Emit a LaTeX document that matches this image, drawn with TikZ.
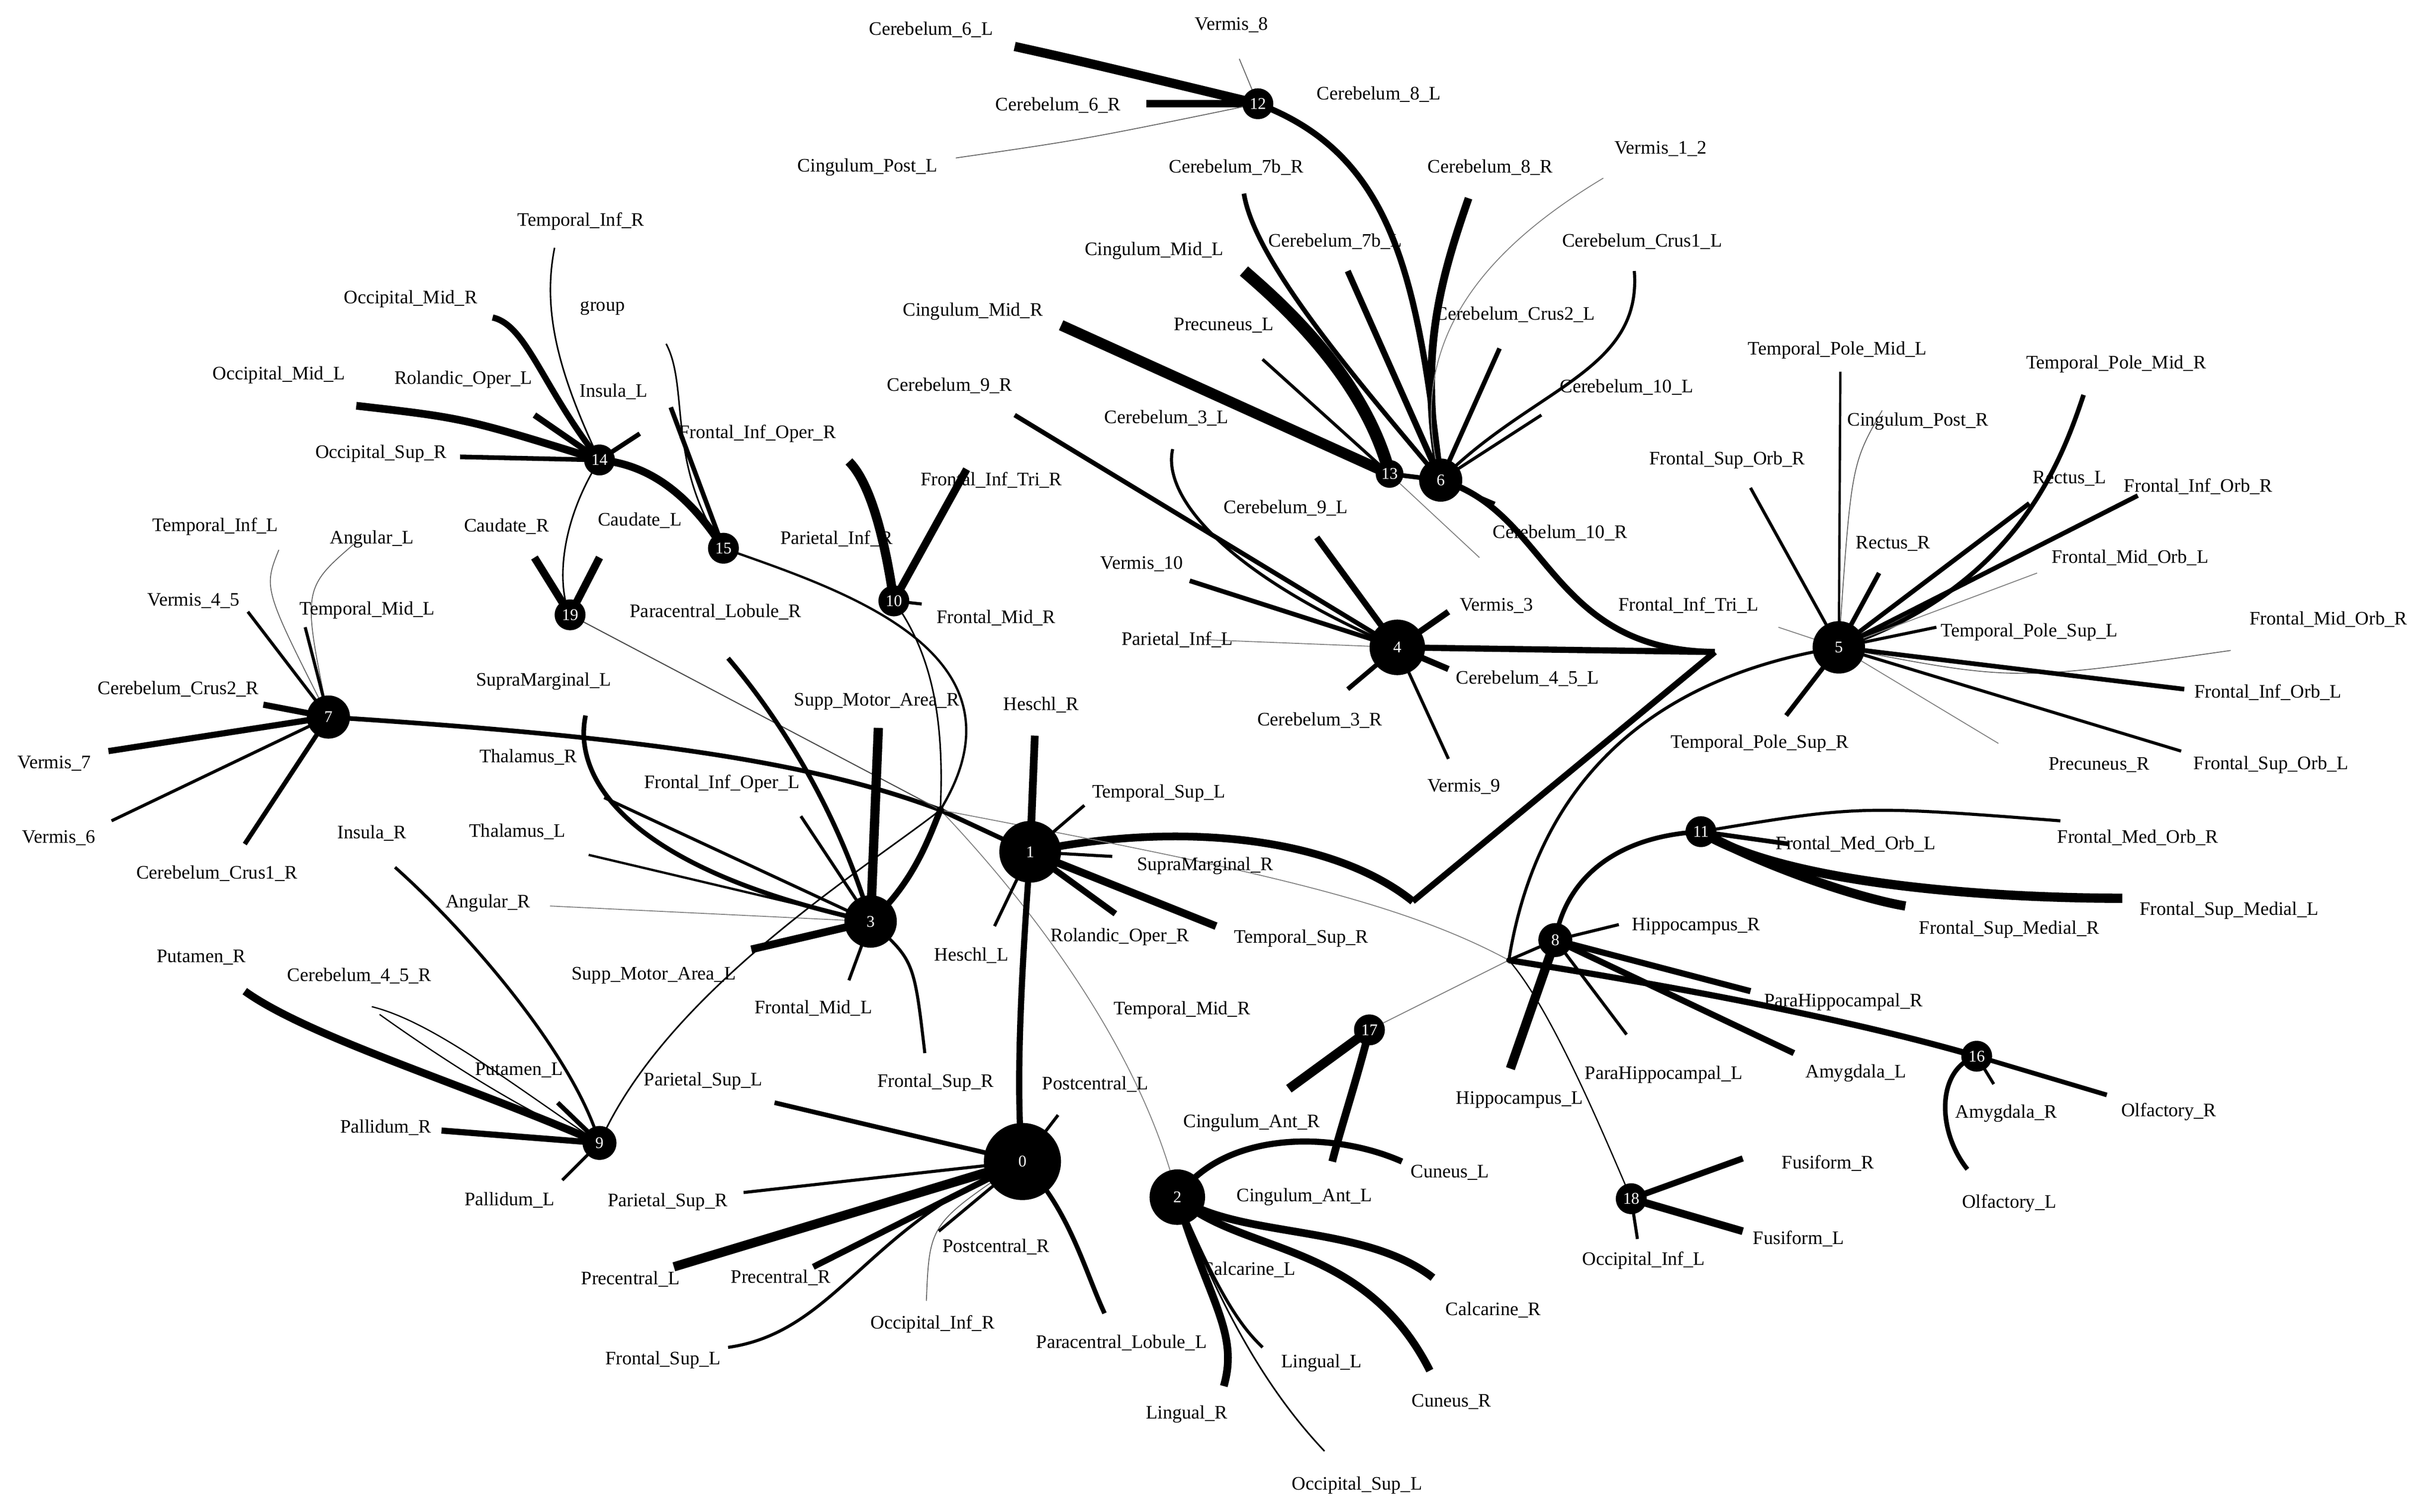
\documentclass[tikz,border=0pt]{standalone}
\usepackage{fontspec}
\setmainfont{Liberation Serif}
\usetikzlibrary{backgrounds}
\tikzset{hub/.style={circle,fill=black,inner sep=0pt,text=white,font=\fontsize{9}{9}\selectfont},
lab/.style={font=\fontsize{10.5}{11}\selectfont,inner sep=0pt},
jn/.style={circle,fill=black,inner sep=0pt,minimum size=4pt}}
\newcommand\E[3]{\draw[line width=#3*0.85pt] (#1) -- (#2);}
\newcommand\C[4]{\draw[line width=#4*0.85pt] (#1) .. controls (#2) .. (#3);}
\newcommand\G[2]{\draw[gray,line width=0.5pt] (#1) -- (#2);}
\newcommand\GC[3]{\draw[gray!80!black,line width=0.5pt] (#1) .. controls (#2) .. (#3);}
\begin{document}
\begin{tikzpicture}[x=0.03cm,y=-0.03cm]
\useasboundingbox (0,0) rectangle (1568,976);
% hubs
\node[hub,minimum size=50*0.85pt] (n0) at (660,750) {0};
\node[hub,minimum size=40*0.85pt] (n1) at (665,550) {1};
\node[hub,minimum size=36*0.85pt] (n2) at (760,773) {2};
\node[hub,minimum size=34*0.85pt] (n3) at (562,595) {3};
\node[hub,minimum size=36*0.85pt] (n4) at (902,418) {4};
\node[hub,minimum size=34*0.85pt] (n5) at (1187,418) {5};
\node[hub,minimum size=28*0.85pt] (n6) at (930,310) {6};
\node[hub,minimum size=28*0.85pt] (n7) at (212,463) {7};
\node[hub,minimum size=22*0.85pt] (n8) at (1004,607) {8};
\node[hub,minimum size=22*0.85pt] (n9) at (387,738) {9};
\node[hub,minimum size=20*0.85pt] (n10) at (577,388) {10};
\node[hub,minimum size=20*0.85pt] (n11) at (1098,537) {11};
\node[hub,minimum size=20*0.85pt] (n12) at (812,67) {12};
\node[hub,minimum size=18*0.85pt] (n13) at (897,306) {13};
\node[hub,minimum size=20*0.85pt] (n14) at (387,297) {14};
\node[hub,minimum size=20*0.85pt] (n15) at (467,354) {15};
\node[hub,minimum size=20*0.85pt] (n16) at (1276,682) {16};
\node[hub,minimum size=20*0.85pt] (n17) at (884,665) {17};
\node[hub,minimum size=20*0.85pt] (n18) at (1053,774) {18};
\node[hub,minimum size=20*0.85pt] (n19) at (368,397) {19};
\node[jn] (ja) at (607,523) {};
\node[jn,minimum size=3pt] (jb) at (974,620) {};
\coordinate (jc) at (1107,421);
\coordinate (jd) at (912,582);
% labels
\foreach \t/\x/\y in {Cerebelum\_6\_L/601/19, Vermis\_8/795/16, Cerebelum\_6\_R/683/68, Cerebelum\_8\_L/890/61, Cingulum\_Post\_L/560/108, Vermis\_1\_2/1072/96, Cerebelum\_7b\_R/798/108, Cerebelum\_8\_R/962/108, Temporal\_Inf\_R/375/143, Cerebelum\_7b\_L/862/156, Cingulum\_Mid\_L/745/162, Cerebelum\_Crus1\_L/1060/156, Occipital\_Mid\_R/265/193, group/389/199, Cingulum\_Mid\_R/628/201, Cerebelum\_Crus2\_L/978/203, Precuneus\_L/790/210, Temporal\_Pole\_Mid\_L/1186/226, Temporal\_Pole\_Mid\_R/1366/235, Occipital\_Mid\_L/180/242, Rolandic\_Oper\_L/299/245, Insula\_L/396/253, Cerebelum\_9\_R/613/249, Cerebelum\_10\_L/1050/250, Cingulum\_Post\_R/1238/272, Cerebelum\_3\_L/753/270, Frontal\_Inf\_Oper\_R/489/280, Occipital\_Sup\_R/246/293, Frontal\_Sup\_Orb\_R/1115/297, Rectus\_L/1336/309, Frontal\_Inf\_Tri\_R/640/310, Frontal\_Inf\_Orb\_R/1419/314, Temporal\_Inf\_L/139/340, Caudate\_R/327/340, Caudate\_L/413/336, Cerebelum\_9\_L/830/328, Angular\_L/240/348, Cerebelum\_10\_R/1007/344, Parietal\_Inf\_R/540/348, Rectus\_R/1222/351, Frontal\_Mid\_Orb\_L/1375/360, Vermis\_10/737/364, Temporal\_Mid\_L/237/394, Vermis\_4\_5/125/388, Vermis\_3/966/391, Paracentral\_Lobule\_R/462/395, Frontal\_Mid\_R/643/399, Frontal\_Inf\_Tri\_L/1090/391, Frontal\_Mid\_Orb\_R/1503/400, Temporal\_Pole\_Sup\_L/1310/408, Parietal\_Inf\_L/760/413, Cerebelum\_4\_5\_L/986/438, SupraMarginal\_L/351/440, Cerebelum\_Crus2\_R/115/445, Frontal\_Inf\_Orb\_L/1464/447, Supp\_Motor\_Area\_R/566/453, Heschl\_R/672/455, Cerebelum\_3\_R/852/465, Thalamus\_R/341/489, Vermis\_7/35/493, Temporal\_Pole\_Sup\_R/1136/480, Precuneus\_R/1355/494, Frontal\_Sup\_Orb\_L/1466/494, Vermis\_9/945/508, Frontal\_Inf\_Oper\_L/466/506, Temporal\_Sup\_L/748/512, Thalamus\_L/334/537, Insula\_R/240/538, Vermis\_6/38/541, Frontal\_Med\_Orb\_R/1380/541, Frontal\_Med\_Orb\_L/1198/545, SupraMarginal\_R/778/559, Cerebelum\_Crus1\_R/140/564, Angular\_R/315/583, Frontal\_Sup\_Medial\_L/1439/588, Frontal\_Sup\_Medial\_R/1297/600, Hippocampus\_R/1095/598, Rolandic\_Oper\_R/723/605, Temporal\_Sup\_R/840/606, Heschl\_L/627/617, Putamen\_R/130/618, Supp\_Motor\_Area\_L/422/630, Cerebelum\_4\_5\_R/232/630, ParaHippocampal\_R/1190/647, Temporal\_Mid\_R/763/652, Frontal\_Mid\_L/525/651, Putamen\_L/335/691, ParaHippocampal\_L/1074/694, Amygdala\_L/1198/693, Amygdala\_R/1295/719, Olfactory\_R/1400/718, Parietal\_Sup\_L/454/698, Postcentral\_L/707/700, Frontal\_Sup\_R/604/699, Hippocampus\_L/981/710, Cingulum\_Ant\_R/808/725, Pallidum\_R/249/728, Cingulum\_Ant\_L/842/773, Cuneus\_L/936/757, Fusiform\_R/1180/751, Pallidum\_L/329/775, Parietal\_Sup\_R/431/776, Olfactory\_L/1297/777, Postcentral\_R/643/805, Fusiform\_L/1161/800, Occipital\_Inf\_L/1061/814, Precentral\_L/407/826, Precentral\_R/504/825, Calcarine\_L/806/820, Occipital\_Inf\_R/602/855, Paracentral\_Lobule\_L/724/867, Calcarine\_R/964/846, Frontal\_Sup\_L/428/878, Lingual\_L/853/880, Cuneus\_R/937/905, Lingual\_R/766/913, Occipital\_Sup\_L/876/959}
  \node[lab] at (\x,\y) {\t};
\begin{scope}[on background layer,line cap=butt]
\fill[white] (0,0) rectangle (1568,976);
% 12
\C{n12.center}{700,40}{655,30}{6}
\GC{n12.center}{805,50}{800,38}
\E{n12.center}{740,67}{5}
\GC{n12.center}{700,90}{617,102}
\draw[line width=4*0.85pt] (n12.center) .. controls (900,100) and (915,180) .. (n6.center);
% 6
\draw[line width=5*0.85pt] (n6.center) .. controls (915,230) and (930,180) .. (948,128);
\E{n6.center}{870,175}{4}
\draw[line width=3*0.85pt] (n6.center) .. controls (880,250) and (810,170) .. (803,125);
\draw[gray,line width=0.5pt] (n6.center) .. controls (905,220) and (960,160) .. (1035,115);
\draw[line width=2*0.85pt] (n6.center) .. controls (990,250) and (1060,240) .. (1055,175);
\E{n6.center}{968,225}{3}
\E{n6.center}{995,268}{2}
\E{n6.center}{965,325}{2}
\E{n6.center}{n13.center}{3}
\draw[line width=8*0.85pt] (n13.center) .. controls (880,240) and (820,190) .. (803,175);
\E{n13.center}{685,210}{7}
\E{n13.center}{815,232}{2}
\draw[gray,line width=0.5pt] (n13.center) -- (955,360);
\draw[line width=4*0.85pt] (n6.center) .. controls (1000,330) and (1000,420) .. (jc);
\E{n4.center}{jc}{4}
\E{jc}{jd}{4}
\draw[line width=5*0.85pt] (n1.center) .. controls (760,530) and (860,540) .. (jd);
% 4
\E{n4.center}{655,268}{3}
\draw[line width=2*0.85pt] (n4.center) .. controls (790,370) and (750,320) .. (757,290);
\E{n4.center}{768,375}{3}
\G{n4.center}{776,413}
\E{n4.center}{850,347}{4}
\E{n4.center}{935,395}{4}
\E{n4.center}{935,432}{4}
\E{n4.center}{870,445}{3}
\E{n4.center}{935,490}{2}
% 5
\E{n5.center}{1130,315}{2}
\GC{n5.center}{1195,300}{1215,265}
\E{n5.center}{1188,240}{1.5}
\draw[line width=3*0.85pt] (n5.center) .. controls (1300,380) and (1330,300) .. (1345,255);
\E{n5.center}{1310,325}{3}
\E{n5.center}{1380,320}{3}
\E{n5.center}{1213,370}{3}
\G{n5.center}{1315,370}
\E{n5.center}{1250,405}{2}
\GC{n5.center}{1300,440}{1440,420}
\E{n5.center}{1410,445}{3}
\E{n5.center}{1408,485}{2}
\G{n5.center}{1290,480}
\E{n5.center}{1153,462}{3}
\G{n5.center}{1148,405}
\draw[line width=2*0.85pt] (n5.center) .. controls (1050,440) and (990,520) .. (jb.center);
% 7
\GC{n7.center}{170,380}{180,355}
\GC{n7.center}{195,380}{230,350}
\E{n7.center}{160,395}{2}
\E{n7.center}{197,405}{2}
\E{n7.center}{170,455}{4}
\E{n7.center}{70,485}{4}
\E{n7.center}{72,530}{2}
\E{n7.center}{158,545}{3}
\draw[line width=3*0.85pt] (n7.center) .. controls (400,475) and (520,490) .. (ja.center);
% 14,15
\draw[line width=4*0.85pt] (n14.center) .. controls (350,250) and (340,210) .. (318,205);
\C{n14.center}{300,270}{230,262}{5}
\E{n14.center}{345,268}{4}
\E{n14.center}{297,295}{3}
\draw[line width=1*0.85pt] (n14.center) .. controls (360,240) and (350,200) .. (358,160);
\E{n14.center}{413,280}{3}
\draw[line width=1*0.85pt] (n15.center) .. controls (430,300) and (445,250) .. (430,222);
\draw[line width=5*0.85pt] (n14.center) .. controls (420,300) and (445,320) .. (n15.center);
\E{n15.center}{433,263}{3}
\draw[line width=1*0.85pt] (n14.center) .. controls (360,340) and (360,380) .. (n19.center);
\draw[line width=1.5*0.85pt] (n15.center) .. controls (540,380) and (670,420) .. (ja.center);
% 10
\E{n10.center}{624,303}{5}
\draw[line width=6*0.85pt] (n10.center) .. controls (570,340) and (560,310) .. (548,298);
\E{n10.center}{595,390}{2}
\draw[line width=1*0.85pt] (n10.center) .. controls (600,420) and (610,460) .. (ja.center);
% 19
\E{n19.center}{345,360}{5}
\E{n19.center}{387,360}{5}
\draw[gray!60!black,line width=0.6pt] (n19.center) -- (ja.center);
% 3
\draw[line width=3*0.85pt] (n3.center) .. controls (400,560) and (370,500) .. (378,462);
\E{n3.center}{390,515}{2}
\E{n3.center}{380,552}{1.5}
\G{n3.center}{355,585}
\E{n3.center}{517,527}{2}
\E{n3.center}{485,613}{5}
\E{n3.center}{548,633}{2}
\C{n3.center}{590,620}{597,680}{2}
\draw[line width=3*0.85pt] (n3.center) .. controls (540,520) and (500,460) .. (470,425);
\E{n3.center}{567,470}{6}
\draw[line width=4*0.85pt] (n3.center) .. controls (590,570) and (600,540) .. (ja.center);
\draw[line width=1*0.85pt] (n9.center) .. controls (430,640) and (560,560) .. (ja.center);
\draw[gray,line width=0.5pt] (ja.center) .. controls (680,600) and (740,690) .. (n2.center);
\E{ja.center}{n1.center}{3}
\draw[gray,line width=0.5pt] (ja.center) .. controls (800,560) and (900,580) .. (jb.center);
% 1
\E{n1.center}{668,475}{5}
\E{n1.center}{700,520}{2}
\E{n1.center}{718,553}{2}
\E{n1.center}{720,590}{4}
\E{n1.center}{785,598}{5}
\E{n1.center}{642,598}{2}
\draw[line width=4*0.85pt] (n1.center) .. controls (660,620) and (655,700) .. (n0.center);
% 0
\E{n0.center}{500,712}{3}
\E{n0.center}{480,770}{2}
\E{n0.center}{435,818}{6}
\E{n0.center}{525,818}{4}
\draw[line width=2*0.85pt] (n0.center) .. controls (560,790) and (540,860) .. (470,870);
\GC{n0.center}{600,790}{598,840}
\E{n0.center}{606,795}{2}
\draw[line width=3*0.85pt] (n0.center) .. controls (690,780) and (700,820) .. (713,848);
\E{n0.center}{683,720}{2}
% 2
\draw[line width=4*0.85pt] (n2.center) .. controls (790,730) and (860,730) .. (905,750);
\draw[line width=5*0.85pt] (n2.center) .. controls (800,800) and (880,790) .. (925,825);
\draw[line width=5*0.85pt] (n2.center) .. controls (800,810) and (880,800) .. (923,885);
\draw[line width=5*0.85pt] (n2.center) .. controls (780,840) and (800,860) .. (790,895);
\draw[line width=2*0.85pt] (n2.center) .. controls (790,845) and (805,860) .. (815,870);
\draw[line width=1*0.85pt] (n2.center) .. controls (790,850) and (820,900) .. (855,937);
% 17
\E{n17.center}{832,703}{6}
\draw[line width=5*0.85pt] (n17.center) .. controls (875,700) and (865,730) .. (860,750);
\G{n17.center}{jb.center}
% 8
\E{n8.center}{1045,597}{2}
\E{n8.center}{1130,640}{4}
\E{n8.center}{1050,668}{2}
\E{n8.center}{1158,680}{4}
\E{n8.center}{975,690}{6}
\draw[line width=3*0.85pt] (n8.center) .. controls (1010,570) and (1040,540) .. (n11.center);
\draw[line width=4*0.85pt] (jb.center) .. controls (1100,640) and (1200,660) .. (n16.center);
\E{n8.center}{jb.center}{2}
% 11
\E{n11.center}{1155,545}{3}
\C{n11.center}{1200,520}{1330,530}{2}
\draw[line width=6*0.85pt] (n11.center) .. controls (1150,570) and (1280,580) .. (1370,580);
\draw[line width=6*0.85pt] (n11.center) .. controls (1140,560) and (1200,580) .. (1230,585);
% 16
\E{n16.center}{1360,707}{3}
\E{n16.center}{1287,700}{2}
\draw[line width=3*0.85pt] (n16.center) .. controls (1250,690) and (1250,730) .. (1270,755);
% 18
\E{n18.center}{1125,748}{4}
\E{n18.center}{1125,795}{5}
\E{n18.center}{1057,800}{2}
\draw[line width=0.7pt] (n18.center) .. controls (1030,720) and (1000,650) .. (jb.center);
% 9
\draw[line width=5*0.85pt] (n9.center) .. controls (300,700) and (200,670) .. (158,640);
\draw[line width=0.7pt] (n9.center) .. controls (330,700) and (280,660) .. (240,650);
\draw[line width=0.7pt] (n9.center) .. controls (340,720) and (280,680) .. (245,655);
\E{n9.center}{360,712}{3}
\E{n9.center}{285,730}{4}
\E{n9.center}{363,762}{2}
\draw[line width=2*0.85pt] (n9.center) .. controls (370,680) and (300,600) .. (255,560);
\end{scope}
\end{tikzpicture}
\end{document}
